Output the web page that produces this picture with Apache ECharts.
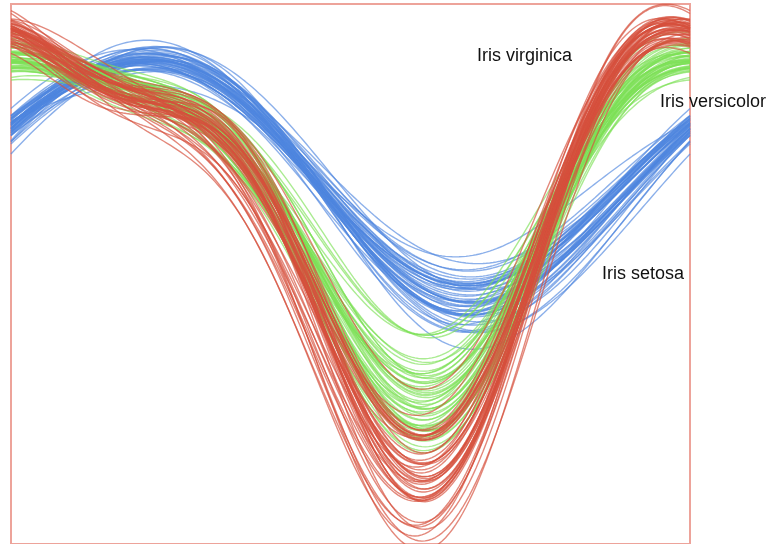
<!DOCTYPE html>
<html><head><meta charset="utf-8">
<script src="https://cdn.jsdelivr.net/npm/echarts@6/dist/echarts.min.js"></script>
<style>html,body{margin:0;padding:0;background:#fff}#c{width:778px;height:544px}</style>
</head><body><div id="c"></div>
<script>
// Iris dataset: sepal length, sepal width, petal length, petal width
const setosa = [
[5.1,3.5,1.4,0.2],[4.9,3.0,1.4,0.2],[4.7,3.2,1.3,0.2],[4.6,3.1,1.5,0.2],[5.0,3.6,1.4,0.2],
[5.4,3.9,1.7,0.4],[4.6,3.4,1.4,0.3],[5.0,3.4,1.5,0.2],[4.4,2.9,1.4,0.2],[4.9,3.1,1.5,0.1],
[5.4,3.7,1.5,0.2],[4.8,3.4,1.6,0.2],[4.8,3.0,1.4,0.1],[4.3,3.0,1.1,0.1],[5.8,4.0,1.2,0.2],
[5.7,4.4,1.5,0.4],[5.4,3.9,1.3,0.4],[5.1,3.5,1.4,0.3],[5.7,3.8,1.7,0.3],[5.1,3.8,1.5,0.3],
[5.4,3.4,1.7,0.2],[5.1,3.7,1.5,0.4],[4.6,3.6,1.0,0.2],[5.1,3.3,1.7,0.5],[4.8,3.4,1.9,0.2],
[5.0,3.0,1.6,0.2],[5.0,3.4,1.6,0.4],[5.2,3.5,1.5,0.2],[5.2,3.4,1.4,0.2],[4.7,3.2,1.6,0.2],
[4.8,3.1,1.6,0.2],[5.4,3.4,1.5,0.4],[5.2,4.1,1.5,0.1],[5.5,4.2,1.4,0.2],[4.9,3.1,1.5,0.1],
[5.0,3.2,1.2,0.2],[5.5,3.5,1.3,0.2],[4.9,3.1,1.5,0.1],[4.4,3.0,1.3,0.2],[5.1,3.4,1.5,0.2],
[5.0,3.5,1.3,0.3],[4.5,2.3,1.3,0.3],[4.4,3.2,1.3,0.2],[5.0,3.5,1.6,0.6],[5.1,3.8,1.9,0.4],
[4.8,3.0,1.4,0.3],[5.1,3.8,1.6,0.2],[4.6,3.2,1.4,0.2],[5.3,3.7,1.5,0.2],[5.0,3.3,1.4,0.2]
];
const versicolor = [
[7.0,3.2,4.7,1.4],[6.4,3.2,4.5,1.5],[6.9,3.1,4.9,1.5],[5.5,2.3,4.0,1.3],[6.5,2.8,4.6,1.5],
[5.7,2.8,4.5,1.3],[6.3,3.3,4.7,1.6],[4.9,2.4,3.3,1.0],[6.6,2.9,4.6,1.3],[5.2,2.7,3.9,1.4],
[5.0,2.0,3.5,1.0],[5.9,3.0,4.2,1.5],[6.0,2.2,4.0,1.0],[6.1,2.9,4.7,1.4],[5.6,2.9,3.6,1.3],
[6.7,3.1,4.4,1.4],[5.6,3.0,4.5,1.5],[5.8,2.7,4.1,1.0],[6.2,2.2,4.5,1.5],[5.6,2.5,3.9,1.1],
[5.9,3.2,4.8,1.8],[6.1,2.8,4.0,1.3],[6.3,2.5,4.9,1.5],[6.1,2.8,4.7,1.2],[6.4,2.9,4.3,1.3],
[6.6,3.0,4.4,1.4],[6.8,2.8,4.8,1.4],[6.7,3.0,5.0,1.7],[6.0,2.9,4.5,1.5],[5.7,2.6,3.5,1.0],
[5.5,2.4,3.8,1.1],[5.5,2.4,3.7,1.0],[5.8,2.7,3.9,1.2],[6.0,2.7,5.1,1.6],[5.4,3.0,4.5,1.5],
[6.0,3.4,4.5,1.6],[6.7,3.1,4.7,1.5],[6.3,2.3,4.4,1.3],[5.6,3.0,4.1,1.3],[5.5,2.5,4.0,1.3],
[5.5,2.6,4.4,1.2],[6.1,3.0,4.6,1.4],[5.8,2.6,4.0,1.2],[5.0,2.3,3.3,1.0],[5.6,2.7,4.2,1.3],
[5.7,3.0,4.2,1.2],[5.7,2.9,4.2,1.3],[6.2,2.9,4.3,1.3],[5.1,2.5,3.0,1.1],[5.7,2.8,4.1,1.3]
];
const virginica = [
[6.3,3.3,6.0,2.5],[5.8,2.7,5.1,1.9],[7.1,3.0,5.9,2.1],[6.3,2.9,5.6,1.8],[6.5,3.0,5.8,2.2],
[7.6,3.0,6.6,2.1],[4.9,2.5,4.5,1.7],[7.3,2.9,6.3,1.8],[6.7,2.5,5.8,1.8],[7.2,3.6,6.1,2.5],
[6.5,3.2,5.1,2.0],[6.4,2.7,5.3,1.9],[6.8,3.0,5.5,2.1],[5.7,2.5,5.0,2.0],[5.8,2.8,5.1,2.4],
[6.4,3.2,5.3,2.3],[6.5,3.0,5.5,1.8],[7.7,3.8,6.7,2.2],[7.7,2.6,6.9,2.3],[6.0,2.2,5.0,1.5],
[6.9,3.2,5.7,2.3],[5.6,2.8,4.9,2.0],[7.7,2.8,6.7,2.0],[6.3,2.7,4.9,1.8],[6.7,3.3,5.7,2.1],
[7.2,3.2,6.0,1.8],[6.2,2.8,4.8,1.8],[6.1,3.0,4.9,1.8],[6.4,2.8,5.6,2.1],[7.2,3.0,5.8,1.6],
[7.4,2.8,6.1,1.9],[7.9,3.8,6.4,2.0],[6.4,2.8,5.6,2.2],[6.3,2.8,5.1,1.5],[6.1,2.6,5.6,1.4],
[7.7,3.0,6.1,2.3],[6.3,3.4,5.6,2.4],[6.4,3.1,5.5,1.8],[6.0,3.0,4.8,1.8],[6.9,3.1,5.4,2.1],
[6.7,3.1,5.6,2.4],[6.9,3.1,5.1,2.3],[5.8,2.7,5.1,1.9],[6.8,3.2,5.9,2.3],[6.7,3.3,5.7,2.5],
[6.7,3.0,5.2,2.3],[6.3,2.5,5.0,1.9],[6.5,3.0,5.2,2.0],[6.2,3.4,5.4,2.3],[5.9,3.0,5.1,1.8]
];
const speciesNames = ['Iris setosa', 'Iris versicolor', 'Iris virginica'];
const speciesColors = ['rgba(78,134,222,0.65)', 'rgba(124,224,86,0.65)', 'rgba(214,80,60,0.68)'];

// Andrews curve: f(t) = x1/sqrt2 + x2 sin t + x3 cos t + x4 sin 2t, t in [-pi, pi]
const N = 200;
function andrews(row) {
  const pts = [];
  for (let i = 0; i <= N; i++) {
    const t = -Math.PI + 2 * Math.PI * i / N;
    const v = row[0] / Math.SQRT2 + row[1] * Math.sin(t) + row[2] * Math.cos(t) + row[3] * Math.sin(2 * t);
    pts.push([t, v]);
  }
  return pts;
}

const series = [];
[setosa, versicolor, virginica].forEach((group, gi) => {
  group.forEach(row => {
    series.push({
      type: 'line', name: speciesNames[gi], data: andrews(row),
      showSymbol: false, silent: true, animation: false, clip: true,
      lineStyle: { width: 1.4, color: speciesColors[gi] }
    });
  });
});

const font = '18px "Liberation Sans", Arial, sans-serif';
const chart = echarts.init(document.getElementById('c'), null, { renderer: 'canvas' });
chart.setOption({
  backgroundColor: '#fff',
  animation: false,
  grid: { left: 11, right: 88, top: 4, bottom: -10, show: true, borderColor: '#eda39a', borderWidth: 2, backgroundColor: 'transparent' },
  xAxis: { type: 'value', min: -Math.PI, max: Math.PI, show: false },
  yAxis: { type: 'value', inverse: true, min: -1.75, max: 15.0, show: false },
  graphic: [
    { type: 'text', left: 477, top: 47, style: { text: 'Iris virginica', font: font, fill: '#111' } },
    { type: 'text', left: 660, top: 93, style: { text: 'Iris versicolor', font: font, fill: '#111' } },
    { type: 'text', left: 602, top: 265, style: { text: 'Iris setosa', font: font, fill: '#111' } }
  ],
  series: series
});
</script>
</body></html>
